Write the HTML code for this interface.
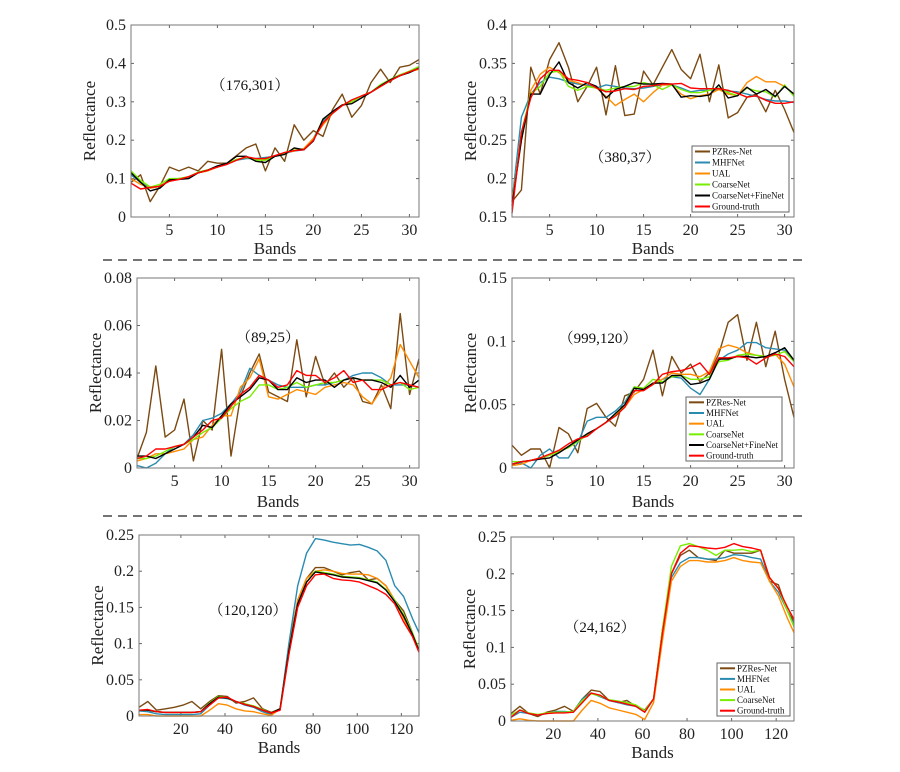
<!DOCTYPE html>
<html><head><meta charset="utf-8"><style>
body{margin:0;background:#fff}
svg{display:block;font-family:"Liberation Serif","Noto Serif CJK SC",serif}
</style></head><body>
<svg id="c" width="900" height="772" viewBox="0 0 900 772">
<line x1="103" y1="260" x2="808" y2="260" stroke="#222" stroke-width="1.3" stroke-dasharray="9,6"/>
<line x1="103" y1="516" x2="808" y2="516" stroke="#222" stroke-width="1.3" stroke-dasharray="9,6"/>
</svg>
<script>
const seriesNames=["PZRes-Net","MHFNet","UAL","CoarseNet","CoarseNet+FineNet","Ground-truth"];
const seriesColors=["#7b4a12","#2a8bb0","#ff8c00","#77ee00","#000000","#ff0000"];
const bands31=[1,2,3,4,5,6,7,8,9,10,11,12,13,14,15,16,17,18,19,20,21,22,23,24,25,26,27,28,29,30,31];
const bands128=[1,5,9,13,17,21,25,29,33,37,41,45,49,53,57,61,65,69,73,77,81,85,89,93,97,101,105,109,113,117,121,125,128];
// panel 1 (176,301)
const p1Brown=[0.09,0.11,0.04,0.08,0.13,0.12,0.13,0.12,0.145,0.14,0.14,0.16,0.18,0.19,0.12,0.18,0.145,0.24,0.20,0.225,0.21,0.28,0.32,0.26,0.29,0.35,0.385,0.35,0.39,0.395,0.41];
const p1Blue=[0.11,0.09,0.075,0.08,0.095,0.1,0.103,0.115,0.122,0.13,0.14,0.148,0.152,0.152,0.155,0.158,0.165,0.172,0.175,0.205,0.25,0.272,0.29,0.3,0.315,0.325,0.34,0.355,0.368,0.378,0.39];
const p1Orange=[0.1,0.085,0.075,0.08,0.095,0.1,0.104,0.115,0.12,0.13,0.138,0.15,0.155,0.15,0.15,0.158,0.168,0.172,0.178,0.205,0.24,0.27,0.29,0.3,0.315,0.325,0.34,0.355,0.37,0.378,0.385];
const p1Green=[0.12,0.095,0.078,0.085,0.1,0.1,0.105,0.117,0.123,0.13,0.14,0.15,0.156,0.148,0.148,0.158,0.165,0.178,0.175,0.2,0.255,0.272,0.292,0.3,0.315,0.325,0.345,0.358,0.37,0.38,0.392];
const p1Black=[0.115,0.09,0.068,0.075,0.097,0.098,0.1,0.115,0.122,0.133,0.14,0.158,0.158,0.145,0.142,0.158,0.163,0.18,0.175,0.198,0.255,0.275,0.292,0.295,0.31,0.325,0.342,0.357,0.368,0.376,0.388];
const p1Red=[0.088,0.073,0.077,0.08,0.093,0.098,0.105,0.115,0.122,0.13,0.137,0.148,0.157,0.152,0.152,0.16,0.168,0.173,0.175,0.2,0.245,0.27,0.29,0.305,0.315,0.325,0.34,0.355,0.368,0.378,0.387];
// panel 2 (380,37)
const p2Brown=[0.17,0.185,0.345,0.31,0.355,0.377,0.345,0.3,0.32,0.345,0.283,0.347,0.282,0.284,0.34,0.322,0.345,0.368,0.342,0.33,0.362,0.3,0.348,0.279,0.286,0.306,0.31,0.287,0.315,0.29,0.26];
const p2Blue=[0.17,0.28,0.31,0.325,0.332,0.33,0.326,0.323,0.322,0.318,0.322,0.32,0.318,0.317,0.318,0.32,0.322,0.322,0.318,0.313,0.315,0.315,0.316,0.314,0.313,0.31,0.307,0.303,0.301,0.301,0.299];
const p2Orange=[0.17,0.25,0.315,0.336,0.345,0.338,0.328,0.325,0.32,0.318,0.307,0.295,0.303,0.31,0.3,0.312,0.322,0.322,0.31,0.304,0.308,0.31,0.316,0.31,0.308,0.325,0.333,0.326,0.326,0.32,0.31];
const p2Green=[0.16,0.26,0.31,0.32,0.338,0.34,0.32,0.315,0.32,0.318,0.315,0.318,0.32,0.32,0.325,0.322,0.316,0.322,0.316,0.312,0.312,0.315,0.318,0.312,0.308,0.318,0.314,0.313,0.306,0.322,0.307];
const p2Black=[0.165,0.25,0.31,0.31,0.335,0.352,0.325,0.318,0.325,0.32,0.305,0.316,0.32,0.325,0.323,0.323,0.324,0.323,0.306,0.308,0.307,0.309,0.322,0.305,0.308,0.319,0.31,0.316,0.307,0.32,0.31];
const p2Red=[0.155,0.26,0.305,0.33,0.341,0.341,0.33,0.328,0.325,0.318,0.313,0.314,0.317,0.316,0.32,0.321,0.323,0.323,0.324,0.318,0.317,0.317,0.317,0.315,0.311,0.306,0.308,0.302,0.298,0.298,0.3];
// panel 3 (89,25)
const p3Brown=[0.004,0.015,0.043,0.013,0.016,0.029,0.003,0.02,0.016,0.05,0.005,0.03,0.04,0.048,0.032,0.03,0.028,0.054,0.03,0.047,0.035,0.04,0.034,0.038,0.028,0.027,0.035,0.025,0.065,0.031,0.046];
const p3Blue=[0.001,0,0.002,0.006,0.009,0.01,0.014,0.02,0.021,0.023,0.027,0.032,0.042,0.039,0.037,0.035,0.034,0.034,0.034,0.035,0.035,0.036,0.037,0.039,0.04,0.04,0.038,0.035,0.035,0.035,0.034];
const p3Orange=[0.003,0.004,0.006,0.006,0.007,0.008,0.012,0.013,0.018,0.022,0.022,0.034,0.038,0.046,0.03,0.029,0.031,0.033,0.032,0.031,0.034,0.035,0.036,0.035,0.03,0.027,0.033,0.038,0.052,0.045,0.038];
const p3Green=[0.004,0.004,0.005,0.007,0.009,0.01,0.012,0.015,0.017,0.021,0.025,0.028,0.03,0.035,0.035,0.033,0.034,0.036,0.034,0.035,0.036,0.036,0.037,0.038,0.037,0.037,0.037,0.035,0.036,0.033,0.034];
const p3Black=[0.005,0.005,0.004,0.006,0.008,0.01,0.013,0.018,0.017,0.022,0.027,0.03,0.033,0.038,0.037,0.033,0.033,0.038,0.036,0.037,0.037,0.034,0.037,0.038,0.037,0.037,0.036,0.034,0.039,0.034,0.037];
const p3Red=[0.004,0.005,0.008,0.008,0.009,0.01,0.013,0.016,0.02,0.021,0.026,0.031,0.034,0.039,0.037,0.034,0.035,0.041,0.039,0.039,0.036,0.038,0.041,0.036,0.037,0.033,0.033,0.035,0.036,0.035,0.034];
// panel 4 (999,120)
const p4Brown=[0.018,0.01,0.015,0.015,0,0.032,0.027,0.012,0.047,0.051,0.04,0.033,0.057,0.06,0.07,0.093,0.057,0.088,0.075,0.082,0.068,0.075,0.09,0.115,0.121,0.085,0.115,0.08,0.108,0.07,0.04];
const p4Blue=[0.003,0.004,0,0.01,0.015,0.008,0.008,0.02,0.037,0.04,0.04,0.045,0.052,0.064,0.062,0.066,0.07,0.072,0.071,0.063,0.058,0.07,0.085,0.09,0.093,0.099,0.099,0.095,0.094,0.093,0.085];
const p4Orange=[0.002,0.003,0.006,0.008,0.01,0.013,0.017,0.022,0.027,0.031,0.036,0.042,0.048,0.058,0.062,0.066,0.07,0.075,0.074,0.074,0.072,0.076,0.094,0.097,0.095,0.091,0.089,0.088,0.09,0.082,0.064];
const p4Green=[0.005,0.005,0.006,0.008,0.01,0.013,0.016,0.021,0.026,0.031,0.036,0.042,0.05,0.064,0.063,0.07,0.068,0.072,0.073,0.07,0.07,0.072,0.084,0.085,0.089,0.09,0.089,0.088,0.089,0.092,0.084];
const p4Black=[0.003,0.005,0.006,0.007,0.008,0.012,0.017,0.022,0.027,0.031,0.036,0.043,0.05,0.063,0.062,0.067,0.067,0.073,0.073,0.066,0.067,0.07,0.086,0.086,0.088,0.088,0.087,0.088,0.091,0.095,0.085];
const p4Red=[0.003,0.005,0.006,0.008,0.011,0.014,0.019,0.023,0.025,0.031,0.036,0.041,0.048,0.061,0.061,0.066,0.074,0.076,0.077,0.079,0.083,0.074,0.087,0.087,0.088,0.087,0.082,0.087,0.09,0.088,0.08];
// panel 5 (120,120)
const p5Brown=[0.012,0.02,0.008,0.01,0.012,0.015,0.02,0.01,0.02,0.028,0.027,0.018,0.02,0.025,0.01,0.005,0.01,0.095,0.16,0.19,0.205,0.205,0.2,0.195,0.198,0.2,0.188,0.19,0.18,0.16,0.145,0.115,0.09];
const p5Blue=[0.007,0.006,0.003,0.002,0.002,0.002,0.002,0.003,0.015,0.025,0.024,0.02,0.015,0.012,0.006,0.002,0.01,0.1,0.18,0.225,0.245,0.243,0.24,0.238,0.236,0.237,0.233,0.228,0.215,0.18,0.165,0.135,0.115];
const p5Orange=[0.002,0.002,0,0,0,0,0,0,0.008,0.017,0.015,0.01,0.007,0.006,0.003,0.001,0.01,0.09,0.16,0.19,0.2,0.202,0.2,0.197,0.196,0.196,0.195,0.19,0.18,0.16,0.135,0.11,0.09];
const p5Green=[0.008,0.008,0.006,0.005,0.005,0.005,0.005,0.006,0.018,0.027,0.025,0.02,0.017,0.014,0.009,0.004,0.01,0.09,0.155,0.185,0.2,0.198,0.196,0.193,0.192,0.191,0.188,0.185,0.175,0.16,0.14,0.115,0.092];
const p5Black=[0.008,0.008,0.006,0.005,0.005,0.005,0.005,0.006,0.017,0.026,0.025,0.02,0.016,0.013,0.008,0.004,0.01,0.09,0.155,0.185,0.199,0.197,0.195,0.192,0.191,0.19,0.187,0.184,0.174,0.158,0.138,0.113,0.09];
const p5Red=[0.008,0.009,0.006,0.005,0.005,0.005,0.005,0.006,0.015,0.025,0.026,0.02,0.016,0.013,0.008,0.004,0.008,0.085,0.15,0.18,0.195,0.196,0.19,0.188,0.187,0.185,0.18,0.175,0.168,0.155,0.13,0.11,0.088];
// panel 6 (24,162)
const p6Brown=[0.01,0.02,0.01,0.006,0.012,0.015,0.02,0.013,0.03,0.042,0.04,0.028,0.025,0.028,0.02,0.015,0.03,0.125,0.2,0.225,0.232,0.222,0.22,0.218,0.232,0.228,0.228,0.228,0.232,0.19,0.185,0.15,0.135];
const p6Blue=[0.005,0.012,0.01,0.008,0.01,0.013,0.013,0.012,0.03,0.038,0.033,0.028,0.025,0.022,0.02,0.012,0.03,0.12,0.195,0.215,0.222,0.222,0.22,0.22,0.222,0.226,0.225,0.222,0.22,0.19,0.175,0.15,0.13];
const p6Orange=[0.001,0.003,0.001,0,0,0,0,0,0.015,0.028,0.024,0.018,0.015,0.012,0.009,0.002,0.025,0.11,0.19,0.21,0.218,0.218,0.216,0.216,0.218,0.222,0.218,0.216,0.215,0.19,0.17,0.14,0.12];
const p6Green=[0.008,0.015,0.011,0.009,0.011,0.012,0.012,0.013,0.028,0.037,0.034,0.029,0.027,0.025,0.022,0.014,0.03,0.125,0.21,0.238,0.241,0.237,0.232,0.225,0.232,0.232,0.233,0.23,0.232,0.195,0.18,0.15,0.128];
const p6Red=[0.005,0.015,0.01,0.008,0.01,0.011,0.011,0.012,0.025,0.038,0.035,0.028,0.026,0.023,0.02,0.012,0.03,0.12,0.2,0.228,0.238,0.237,0.235,0.234,0.236,0.241,0.237,0.235,0.232,0.195,0.18,0.155,0.138];
const ticks31=[5,10,15,20,25,30];
const ticks128=[20,40,60,80,100,120];
const yt1=[0,0.1,0.2,0.3,0.4,0.5];
const yt2=[0.15,0.2,0.25,0.3,0.35,0.4];
const yt3=[0,0.02,0.04,0.06,0.08];
const yt4=[0,0.05,0.1,0.15];
const yt5=[0,0.05,0.1,0.15,0.2,0.25];

const NS="http://www.w3.org/2000/svg";
const svg=document.getElementById('c');
function mk(tag,attrs,parent){const e=document.createElementNS(NS,tag);for(const k in attrs)e.setAttribute(k,attrs[k]);(parent||svg).appendChild(e);return e;}

const panels=[
 {id:'p1',box:[131,25,419,217],xd:[1,31],yd:[0,0.5],xt:ticks31,yt:yt1,x:bands31,s:[p1Brown,p1Blue,p1Orange,p1Green,p1Black,p1Red],lbl:'（176,301）',lp:[250,90],bandsY:254,legend:null},
 {id:'p2',box:[512,25,794,217],xd:[1,31],yd:[0.15,0.4],xt:ticks31,yt:yt2,x:bands31,s:[p2Brown,p2Blue,p2Orange,p2Green,p2Black,p2Red],lbl:'（380,37）',lp:[625,162],bandsY:254,legend:[692,146,97,66,[0,1,2,3,4,5]]},
 {id:'p3',box:[137,278,419,468],xd:[1,31],yd:[0,0.08],xt:ticks31,yt:yt3,x:bands31,s:[p3Brown,p3Blue,p3Orange,p3Green,p3Black,p3Red],lbl:'（89,25）',lp:[268,342],bandsY:507,legend:null},
 {id:'p4',box:[512,278,794,468],xd:[1,31],yd:[0,0.15],xt:ticks31,yt:yt4,x:bands31,s:[p4Brown,p4Blue,p4Orange,p4Green,p4Black,p4Red],lbl:'（999,120）',lp:[598,343],bandsY:507,legend:[686,397,96,64,[0,1,2,3,4,5]]},
 {id:'p5',box:[139,535,419,716],xd:[1,128],yd:[0,0.25],xt:ticks128,yt:yt5,x:bands128,s:[p5Brown,p5Blue,p5Orange,p5Green,p5Black,p5Red],lbl:'（120,120）',lp:[248,615],bandsY:753,legend:null},
 {id:'p6',box:[511,537,794,721],xd:[1,128],yd:[0,0.25],xt:ticks128,yt:yt5,x:bands128,s:[p6Brown,p6Blue,p6Orange,p6Green,null,p6Red],lbl:'（24,162）',lp:[600,632],bandsY:758,legend:[717,663,73,53,[0,1,2,3,5]]}
];

panels.forEach(p=>{
 const [x0,y0,x1,y1]=p.box;
 const sx=v=>x0+(v-p.xd[0])/(p.xd[1]-p.xd[0])*(x1-x0);
 const sy=v=>y1-(v-p.yd[0])/(p.yd[1]-p.yd[0])*(y1-y0);
 const g=mk('g',{});
 
 
 const bg=mk('rect',{x:x0,y:y0,width:x1-x0,height:y1-y0,fill:'#fff',stroke:'none'},g);
 
 
 p.yt.forEach(t=>{
  const y=sy(t);
  const tk=mk('line',{x1:x0,x2:x0+3,y1:y,y2:y,stroke:'#666','stroke-width':1},g);
  
  
  mk('line',{x1:x1,x2:x1-3,y1:y,y2:y,stroke:'#666','stroke-width':1},g);
  const tx=mk('text',{x:x0-5,y:y+5,'text-anchor':'end','font-size':16,fill:'#222'},g);
  tx.textContent=String(t);
  
  
 });
 p.xt.forEach(t=>{
  const x=sx(t);
  mk('line',{x1:x,x2:x,y1:y1,y2:y1-3,stroke:'#666','stroke-width':1},g);
  mk('line',{x1:x,x2:x,y1:y0,y2:y0+3,stroke:'#666','stroke-width':1},g);
  const tx=mk('text',{x:x,y:y1+18,'text-anchor':'middle','font-size':16,fill:'#222'},g);
  tx.textContent=String(t);
  
  
 });
 p.s.forEach((arr,i)=>{
  if(!arr)return;
  const d=arr.map((v,j)=>(j?'L':'M')+sx(p.x[j]).toFixed(1)+','+sy(v).toFixed(1)).join('');
  const pl=mk('path',{d:d,fill:'none',stroke:seriesColors[i],'stroke-width':1.4,'stroke-linejoin':'round'},g);
  
  
 });
 const fr=mk('rect',{x:x0,y:y0,width:x1-x0,height:y1-y0,fill:'none',stroke:'#777','stroke-width':1},g);
 
 
 const lb=mk('text',{x:p.lp[0],y:p.lp[1],'text-anchor':'middle','font-size':15,fill:'#111'},g);
 lb.textContent=p.lbl;
 
 
 const xl=mk('text',{x:(x0+x1)/2,y:p.bandsY,'text-anchor':'middle','font-size':17,fill:'#222'},g);
 xl.textContent='Bands';
 
 
 const yc=(y0+y1)/2, ycx=x0-36;
 const yl=mk('text',{x:ycx,y:yc,'text-anchor':'middle','font-size':17,fill:'#222',transform:'rotate(-90 '+ycx+' '+yc+')'},g);
 yl.textContent='Reflectance';
 
 
 if(p.legend){
  const [lx,ly,lw,lh,idx]=p.legend;
  const lg=mk('g',{},g);
  
  
  mk('rect',{x:lx,y:ly,width:lw,height:lh,fill:'#fff',stroke:'#666','stroke-width':1},lg);
  const step=lh/idx.length;
  idx.forEach((si,k)=>{
   const yy=ly+step*(k+0.5);
   mk('line',{x1:lx+3,x2:lx+18,y1:yy,y2:yy,stroke:seriesColors[si],'stroke-width':2},lg);
   const t=mk('text',{x:lx+20,y:yy+3,'font-size':9,fill:'#111'},lg);
   t.textContent=seriesNames[si];
   
   
  });
 }
});
</script>
</body></html>
